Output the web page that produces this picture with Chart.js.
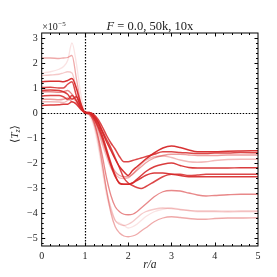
<!DOCTYPE html>
<html>
<head>
<meta charset="utf-8">
<script src="https://cdn.jsdelivr.net/npm/chart.js@4.4.1/dist/chart.umd.min.js"></script>
<style>
  html, body { margin: 0; padding: 0; background: #fff; }
  canvas { display: block; }
</style>
</head>
<body>
<canvas id="c" width="277" height="277"></canvas>
<script>
// radius r/a, shared by all runs
const r = [0, 0.2, 0.4, 0.5, 0.6, 0.7, 0.8, 0.9, 1.0,
  1.1, 1.2, 1.3, 1.4, 1.5, 1.6, 1.7, 1.8, 1.9, 2.0, 2.1, 2.2, 2.3, 2.4,
  2.6, 2.8, 3.0, 3.2, 3.4, 3.6, 3.8, 4.0, 4.3, 4.6, 5.0];

const xTicks = [0, 1, 2, 3, 4, 5];
const yTicks = [-5, -4, -3, -2, -1, 0, 1, 2, 3];

// <T_z> in units of 1e-5
const runD1 = [1.6, 1.65, 1.75, 1.85, 2.1, 2.8, 2.0, 0.8, 0.05,
  -0.1, -0.5, -1.3, -2.3, -3.3, -3.9, -4.3, -4.4, -4.5, -4.6, -4.55, -4.45, -4.3, -4.15,
  -3.95, -3.85, -3.8, -3.85, -3.9, -3.95, -3.95, -3.95, -3.97, -3.95, -3.95];
const runD2 = [1.5, 1.52, 1.55, 1.6, 1.65, 1.6, 1.0, 0.35, 0.0,
  -0.05, -0.4, -1.1, -2.1, -3.1, -3.8, -4.3, -4.45, -4.5, -4.45, -4.35, -4.2, -4.05, -3.95,
  -3.85, -3.8, -3.82, -3.87, -3.9, -3.92, -3.92, -3.92, -3.93, -3.92, -3.92];
const runL2 = [0.45, 0.45, 0.44, 0.42, 0.5, 0.6, 0.45, 0.2, 0.02,
  0, -0.25, -0.7, -1.25, -1.75, -2.2, -2.45, -2.6, -2.62, -2.6, -2.45, -2.25, -2.05, -1.9,
  -1.75, -1.72, -1.78, -1.88, -1.95, -1.97, -1.95, -1.9, -1.86, -1.85, -1.85];
const runD3 = [2.2, 2.2, 2.18, 2.2, 2.22, 2.3, 1.4, 0.45, 0.0,
  -0.05, -0.35, -1.0, -2.0, -3.1, -4.0, -4.55, -4.8, -4.92, -4.95, -4.92, -4.85, -4.72, -4.6,
  -4.35, -4.2, -4.15, -4.18, -4.22, -4.25, -4.25, -4.22, -4.2, -4.2, -4.19];
const runL1 = [0.55, 0.55, 0.53, 0.55, 0.6, 0.45, 0.4, 0.2, 0.02,
  0, -0.2, -0.6, -1.1, -1.6, -2.05, -2.35, -2.5, -2.55, -2.55, -2.45, -2.3, -2.15, -2.0,
  -1.8, -1.7, -1.65, -1.65, -1.68, -1.7, -1.7, -1.7, -1.68, -1.68, -1.68];
const runD4 = [0.85, 0.85, 0.83, 0.85, 0.9, 0.75, 0.5, 0.25, 0.02,
  -0.05, -0.3, -0.9, -1.7, -2.6, -3.3, -3.75, -3.95, -4.05, -4.07, -4.05, -3.95, -3.8, -3.65,
  -3.35, -3.15, -3.1, -3.12, -3.2, -3.28, -3.32, -3.3, -3.27, -3.25, -3.25];
const runB = [1.02, 1.03, 1.0, 1.0, 1.15, 1.25, 0.7, 0.3, 0.02,
  0.02, -0.05, -0.25, -0.55, -0.9, -1.2, -1.45, -1.75, -1.95, -1.95, -1.9, -1.85, -1.8, -1.75,
  -1.65, -1.55, -1.55, -1.58, -1.6, -1.62, -1.62, -1.6, -1.6, -1.58, -1.59];
const runD = [0.68, 0.7, 0.7, 0.65, 0.55, 0.7, 0.5, 0.2, 0.02,
  0, -0.1, -0.35, -0.7, -1.05, -1.4, -1.8, -2.2, -2.6, -2.8, -2.9, -2.98, -3.02, -2.95,
  -2.75, -2.55, -2.45, -2.45, -2.5, -2.48, -2.45, -2.45, -2.45, -2.45, -2.45];
const runC = [0.9, 0.92, 0.9, 0.85, 0.75, 0.55, 0.65, 0.3, 0.02,
  0, -0.2, -0.55, -1.0, -1.55, -2.1, -2.55, -2.8, -2.85, -2.85, -2.8, -2.65, -2.5, -2.35,
  -2.15, -2.05, -2.0, -2.1, -2.18, -2.2, -2.2, -2.2, -2.2, -2.19, -2.19];
const runE = [0.3, 0.32, 0.33, 0.35, 0.35, 0.45, 0.35, 0.15, 0.02,
  0, -0.15, -0.45, -0.9, -1.45, -2.0, -2.5, -2.82, -2.85, -2.85, -2.8, -2.7, -2.6, -2.5,
  -2.4, -2.4, -2.45, -2.5, -2.55, -2.55, -2.55, -2.55, -2.55, -2.55, -2.55];
const runA = [1.25, 1.27, 1.27, 1.25, 1.3, 1.38, 1.0, 0.4, 0.03,
  0.02, -0.1, -0.35, -0.75, -1.15, -1.5, -1.85, -2.15, -2.35, -2.5, -2.3, -2.15, -2.0, -1.85,
  -1.6, -1.4, -1.32, -1.38, -1.48, -1.55, -1.55, -1.55, -1.53, -1.52, -1.51];

// lightest first so the dark runs sit on top
const runs = [runD1, runD2, runL2, runD3, runL1, runD4, runB, runD, runC, runE, runA];
const alphas = [0.13, 0.25, 0.32, 0.4, 0.45, 0.55, 0.85, 0.85, 0.9, 0.9, 0.95];

const serif = "'Liberation Serif', 'DejaVu Serif', serif";
const minus = v => (v < 0 ? '\u2212' + Math.abs(v) : String(v));

const decor = {
  id: 'decor',
  beforeDatasetsDraw(chart) {
    const { ctx, chartArea: a, scales: { x, y } } = chart;
    ctx.save();
    ctx.strokeStyle = '#000';
    ctx.lineWidth = 1.2;
    ctx.setLineDash([1.5, 1.5]);
    const px = Math.round(x.getPixelForValue(1)) + 0.5;
    const py = Math.round(y.getPixelForValue(0)) + 0.5;
    ctx.beginPath();
    ctx.moveTo(px, a.top); ctx.lineTo(px, a.bottom);
    ctx.moveTo(a.left, py); ctx.lineTo(a.right, py);
    ctx.stroke();
    ctx.restore();
  },
  afterDraw(chart) {
    const { ctx, chartArea: a, scales: { x, y } } = chart;
    ctx.save();
    ctx.strokeStyle = '#000';
    ctx.lineWidth = 1;
    ctx.strokeRect(a.left, a.top, a.right - a.left, a.bottom - a.top);

    // inward ticks on all four sides
    ctx.beginPath();
    for (let i = 1; i < 25; i++) {
      const v = i / 5;
      const len = i % 5 === 0 ? 3.5 : 2;
      const p = Math.round(x.getPixelForValue(v)) + 0.5;
      ctx.moveTo(p, a.bottom); ctx.lineTo(p, a.bottom - len);
      ctx.moveTo(p, a.top); ctx.lineTo(p, a.top + len);
    }
    for (let i = -26; i <= 15; i++) {
      const v = i / 5;
      const len = i % 5 === 0 ? 3.5 : 2;
      const p = Math.round(y.getPixelForValue(v)) + 0.5;
      ctx.moveTo(a.left, p); ctx.lineTo(a.left + len, p);
      ctx.moveTo(a.right, p); ctx.lineTo(a.right - len, p);
    }
    ctx.stroke();

    ctx.fillStyle = '#222';
    ctx.textBaseline = 'alphabetic';

    // title
    const fs = 12.5;
    const part1 = 'F';
    const part2 = ' = 0.0, 50k, 10x';
    ctx.font = `italic ${fs}px ${serif}`;
    const w1 = ctx.measureText(part1).width;
    ctx.font = `${fs}px ${serif}`;
    const w2 = ctx.measureText(part2).width;
    const tx = (a.left + a.right) / 2 - (w1 + w2) / 2;
    ctx.textAlign = 'left';
    ctx.font = `italic ${fs}px ${serif}`;
    ctx.fillText(part1, tx, 29.5);
    ctx.font = `${fs}px ${serif}`;
    ctx.fillText(part2, tx + w1, 29.5);

    // offset text
    ctx.font = `10px ${serif}`;
    ctx.fillText('\u00d710', a.left + 0.5, 30);
    const wm = ctx.measureText('\u00d710').width;
    ctx.font = `7px ${serif}`;
    ctx.fillText('\u22125', a.left + 0.5 + wm + 0.5, 25.5);

    // x label
    ctx.font = `italic 11.5px ${serif}`;
    ctx.textAlign = 'center';
    ctx.fillText('r/a', (a.left + a.right) / 2, 268);

    // y label
    ctx.translate(17.5, 134);
    ctx.rotate(-Math.PI / 2);
    ctx.font = `11px ${serif}`;
    const lb = '\u27e8', rb = '\u27e9';
    const wl = ctx.measureText(lb).width;
    const wr = ctx.measureText(rb).width;
    ctx.font = `italic 11px ${serif}`;
    const wt = ctx.measureText('T').width;
    ctx.font = `italic 8px ${serif}`;
    const wz = ctx.measureText('z').width;
    let lx = -(wl + wt + wz + wr) / 2;
    ctx.textAlign = 'left';
    ctx.font = `11px ${serif}`;
    ctx.fillText(lb, lx, 0); lx += wl;
    ctx.font = `italic 11px ${serif}`;
    ctx.fillText('T', lx, 0); lx += wt;
    ctx.font = `italic 8px ${serif}`;
    ctx.fillText('z', lx, 2.5); lx += wz;
    ctx.font = `11px ${serif}`;
    ctx.fillText(rb, lx, 0);
    ctx.restore();
  }
};

new Chart(document.getElementById('c'), {
  type: 'line',
  data: {
    labels: r,
    datasets: runs.map((vals, i) => ({
      data: vals.map((v, k) => ({ x: r[k], y: v })),
      borderColor: `rgba(214, 39, 40, ${alphas[i]})`,
      borderWidth: alphas[i] > 0.7 ? 1.5 : 1.3,
      pointRadius: 0,
      cubicInterpolationMode: 'monotone',
      fill: false
    }))
  },
  options: {
    responsive: false,
    animation: false,
    devicePixelRatio: 1,
    layout: { padding: { top: 33, right: 19, bottom: 0, left: 0 } },
    plugins: { legend: { display: false }, tooltip: { enabled: false }, title: { display: false } },
    scales: {
      x: {
        type: 'linear',
        min: 0,
        max: 5,
        grid: { display: false, drawTicks: false },
        border: { display: false },
        afterBuildTicks: s => { s.ticks = xTicks.map(v => ({ value: v })); },
        afterFit: s => { s.height = 31; },
        ticks: { color: '#222', padding: 4, maxRotation: 0, font: { family: serif, size: 10 }, callback: minus }
      },
      y: {
        type: 'linear',
        min: -5.32,
        max: 3.2,
        grid: { display: false, drawTicks: false },
        border: { display: false },
        afterBuildTicks: s => { s.ticks = yTicks.map(v => ({ value: v })); },
        afterFit: s => { s.width = 41.7; },
        ticks: { color: '#222', padding: 4, font: { family: serif, size: 10 }, callback: minus }
      }
    }
  },
  plugins: [decor]
});
</script>
</body>
</html>
